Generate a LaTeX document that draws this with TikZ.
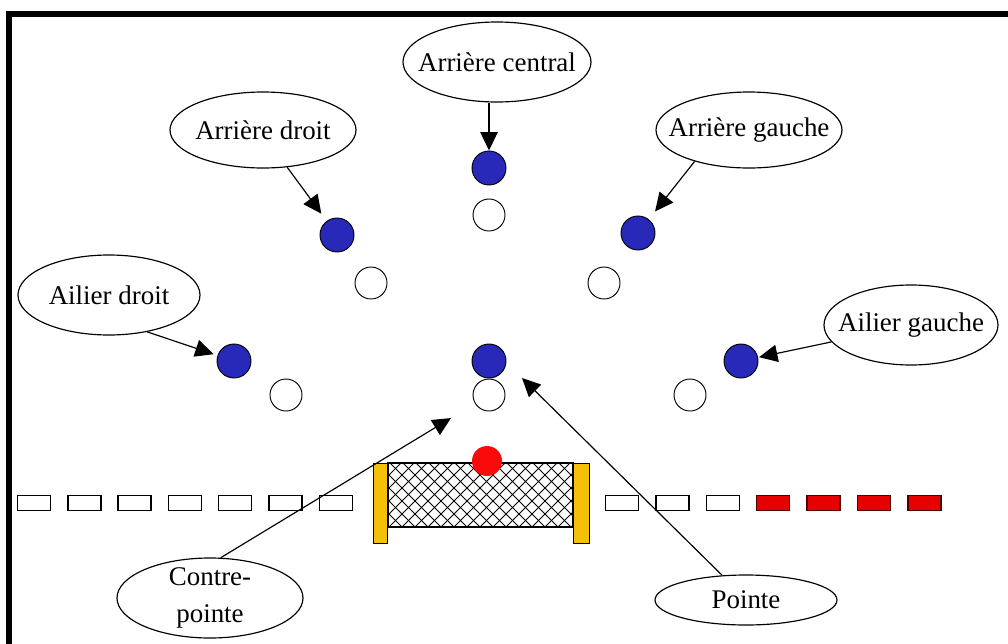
\documentclass[tikz,border=0pt]{standalone}
\usepackage{fontspec}
\setmainfont{Liberation Serif}
\usetikzlibrary{arrows.meta,shapes.geometric}
\definecolor{playerblue}{RGB}{40,40,185}
\definecolor{postyellow}{RGB}{245,192,10}
\definecolor{ballred}{RGB}{250,10,10}
\definecolor{dashred}{RGB}{230,0,0}

\begin{document}
\begin{tikzpicture}[x=0.03cm, y=-0.03cm, >={Triangle[length=0.55cm,width=0.52cm]},
    tag/.style={ellipse, draw, line width=1pt, inner xsep=-1cm, inner ysep=-0.4cm, font=\fontsize{23}{25}\selectfont},
    attacker/.style={circle, draw, line width=0.8pt, fill=playerblue, minimum size=1.02cm, inner sep=0pt},
    defender/.style={circle, draw, line width=0.8pt, fill=white, minimum size=0.96cm, inner sep=0pt},
    whitedash/.style={rectangle, draw, line width=1.2pt, fill=white, minimum width=0.99cm, minimum height=0.45cm, inner sep=0pt},
    reddash/.style={whitedash, fill=dashred, draw=black!70!red},
    pointer/.style={->, line width=1pt}]
    \useasboundingbox (0,0) rectangle (1008,644);

    % Frame
    \fill (6,11) rectangle (1008,17);
    \fill (6,11) rectangle (12,644);

    % Goal line
    \foreach \i in {0,...,6}
        \node[whitedash] (lw\i) at (34+50.3*\i, 503) {};
    \foreach \i in {0,1,2}
        \node[whitedash] (rw\i) at (622+50.4*\i, 503) {};
    \foreach \i in {3,...,6}
        \node[reddash] (rr\i) at (622+50.4*\i, 503) {};

    % Goal: net and posts
    \begin{scope}
        \clip (388,463) rectangle (573,527);
        \foreach \i in {0,...,24} {
            \draw[line width=0.8pt] (324+13*\i,527) -- ++(64,-64);
            \draw[line width=0.8pt] (324+13*\i,527) -- ++(-64,-64);
        }
    \end{scope}
    \draw[line width=1.4pt] (388,463) rectangle (573,527);
    \draw[fill=postyellow, line width=0.8pt] (373,463) rectangle (387,543);
    \draw[fill=postyellow, line width=0.8pt] (573,463) rectangle (589,543);
    \node[circle, fill=ballred, minimum size=0.9cm, inner sep=0pt] (ball) at (487,461) {};

    % Define players
    \node[attacker] (bAC) at (489,168) {};
    \node[attacker] (bAD) at (337,235) {};
    \node[attacker] (bAG) at (638,233) {};
    \node[attacker] (bAiD) at (234,361) {};
    \node[attacker] (bC) at (489,361) {};
    \node[attacker] (bAiG) at (741,361) {};
    \node[defender] (wAC) at (489,215) {};
    \node[defender] (wAD) at (371,283) {};
    \node[defender] (wAG) at (604,283) {};
    \node[defender] (wAiD) at (286,395) {};
    \node[defender] (wC) at (489,395) {};
    \node[defender] (wAiG) at (690,395) {};
    \coordinate (ptip) at (522,378);

    % Define labels
    \node[tag, minimum width=5.64cm, minimum height=2.4cm] (ac) at (497,62) {Arrière central};
    \node[tag, minimum width=5.58cm, minimum height=2.28cm] (ad) at (263,130) {Arrière droit};
    \node[tag, minimum width=5.58cm, minimum height=2.28cm] (ag) at (749,130) {Arrière gauche};
    \node[tag, minimum width=5.46cm, minimum height=2.4cm] (aid) at (109,295) {Ailier droit};
    \node[tag, minimum width=5.22cm, minimum height=2.4cm] (aig) at (911,325) {Ailier gauche};
    \node[tag, align=center, font=\fontsize{23}{32}\selectfont,
          minimum width=5.58cm, minimum height=2.4cm] (cp) at (210,598) {Contre-\\pointe};
    \node[tag, minimum width=5.46cm, minimum height=1.5cm] (pt) at (746,600) {Pointe};

    % Draw pointers
    \draw[pointer] (bAC |- ac.south) -- (bAC);
    \draw[pointer, shorten >=0.27cm] (ad.-57) -- (bAD);
    \draw[pointer, shorten >=0.3cm] (ag.-150) -- (bAG);
    \draw[pointer, shorten >=0.12cm] (aid.-44) -- (bAiD);
    \draw[pointer, shorten >=0.03cm] (aig.-168) -- (bAiG);
    \draw[pointer, shorten >=0.84cm] (cp.75) -- (wC);
    \draw[pointer] (pt.134) -- (ptip);
\end{tikzpicture}
\end{document}
